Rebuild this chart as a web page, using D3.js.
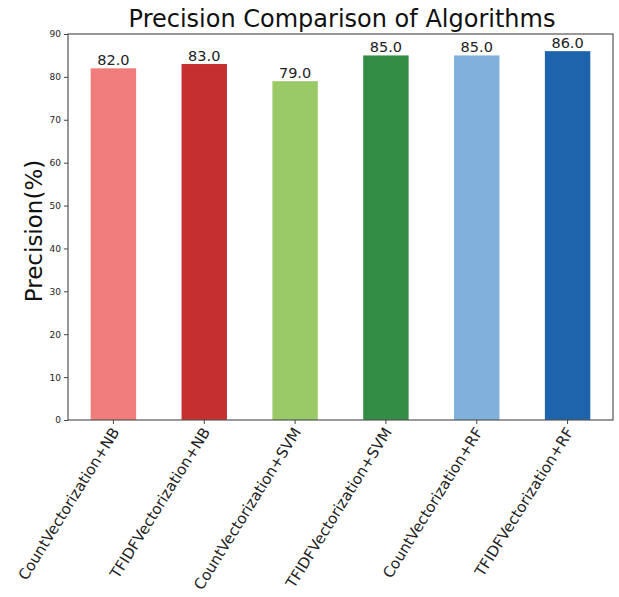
<!DOCTYPE html>
<html><head><meta charset="utf-8">
<script src="https://cdn.jsdelivr.net/npm/d3@7"></script>
<style>body{margin:0;background:#fff;} text{font-family:"DejaVu Sans",sans-serif;}</style>
</head><body>
<svg id="c" width="619" height="597"></svg>
<script>
const categories = ["CountVectorization+NB","TFIDFVectorization+NB","CountVectorization+SVM","TFIDFVectorization+SVM","CountVectorization+RF","TFIDFVectorization+RF"];
const precision = [82.0, 83.0, 79.0, 85.0, 85.0, 86.0];
const barColors = ["#f17c7c","#c62f2f","#9aca68","#338d45","#7fb1dc","#1e64ad"];
const yTicks = [0,10,20,30,40,50,60,70,80,90];
const title = "Precision Comparison of Algorithms";
const yLabel = "Precision(%)";

const svg = d3.select("#c");
const L = 68, R = 613, T = 34, B = 420;
const x = d3.scaleBand().domain(categories).range([L, R]).paddingInner(0.5).paddingOuter(0.25);
const y = d3.scaleLinear().domain([0, 90]).range([B, T]);

svg.append("g").selectAll("rect").data(categories).join("rect")
  .attr("x", d => x(d)).attr("width", x.bandwidth())
  .attr("y", (d,i) => y(precision[i])).attr("height", (d,i) => y(0) - y(precision[i]))
  .attr("fill", (d,i) => barColors[i]);

svg.append("g").selectAll("text").data(categories).join("text")
  .attr("x", d => x(d) + x.bandwidth()/2).attr("y", (d,i) => y(precision[i]) - 3)
  .attr("text-anchor", "middle").attr("font-size", 14.5).attr("fill", "#222")
  .text((d,i) => precision[i].toFixed(1));

// frame
svg.append("rect").attr("x", L).attr("y", T).attr("width", R - L).attr("height", B - T)
  .attr("fill", "none").attr("stroke", "#555").attr("stroke-width", 1.2);

const ya = svg.append("g").attr("transform", `translate(${L},0)`)
  .call(d3.axisLeft(y).tickValues(yTicks).tickSize(4).tickPadding(3));
ya.select(".domain").remove();
ya.selectAll("text").attr("font-size", 9).attr("fill", "#222").style("font-family", "DejaVu Sans");
ya.selectAll("line").attr("stroke", "#444");

const xa = svg.append("g").attr("transform", `translate(0,${B})`)
  .call(d3.axisBottom(x).tickSize(4).tickPadding(2));
xa.select(".domain").remove();
xa.selectAll("line").attr("stroke", "#444");
xa.selectAll("text").attr("font-size", 15).attr("fill", "#222").style("font-family", "DejaVu Sans")
  .attr("text-anchor", "end").attr("dy", "0.35em")
  .attr("transform", "translate(2,9) rotate(-58)").attr("x", 0).attr("y", 0);

svg.append("text").attr("x", 342).attr("y", 27).attr("text-anchor", "middle")
  .attr("font-size", 24).attr("fill", "#111").text(title);

svg.append("text").attr("transform", `translate(42,${(T+B)/2 + 4}) rotate(-90)`)
  .attr("text-anchor", "middle").attr("font-size", 23).attr("fill", "#111").text(yLabel);
</script>
</body></html>
